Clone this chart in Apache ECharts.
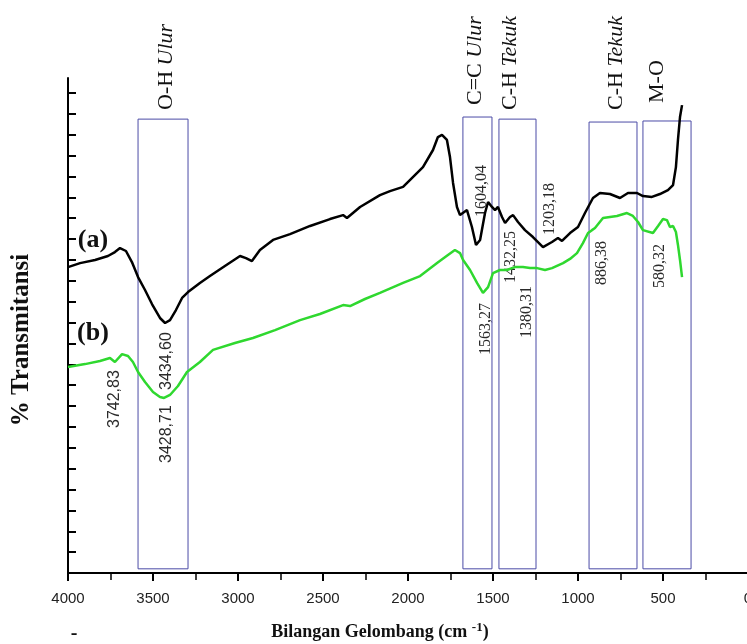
<!DOCTYPE html>
<html>
<head>
<meta charset="UTF-8">
<title>FTIR</title>
<style>
	* { margin: 0; padding: 0; }
	html, body { width: 100%; height: 100%; overflow: hidden; background: #fff; }
	#ftir { width: 747px; height: 644px; }
</style>
</head>
<body>
<div id="ftir"></div>
<script src="https://cdn.jsdelivr.net/npm/echarts@6/dist/echarts.min.js"></script>
<script>
// spektrum (a) - hitam
var waveA = [4000,3929,3841,3765,3724,3694,3659,3624,3588,3547,3506,3459,3429,3400,3365,3329,3294,3224,3165,3077,
	2988,2953,2918,2871,2794,2694,2576,2459,2382,2359,2282,2165,2106,2029,1912,1853,1824,1800,1771,1753,
	1735,1712,1694,1653,1624,1600,1576,1547,1529,1506,1488,1471,1447,1429,1400,1382,1353,1312,1265,1206,
	1153,1118,1094,1047,1000,959,912,871,812,753,706,653,618,565,518,471,441,424,412,400,388];
var transA = [14.66,14.85,15.00,15.19,15.38,15.57,15.43,14.90,14.18,13.56,12.89,12.22,11.98,12.12,12.60,13.18,13.46,13.90,14.23,14.71,
	15.19,15.09,14.95,15.48,15.96,16.24,16.63,16.96,17.15,17.01,17.54,18.11,18.30,18.50,19.45,20.27,20.89,20.99,20.75,19.93,
	18.69,17.54,17.15,17.39,16.58,15.72,15.96,17.25,17.78,17.54,17.39,17.54,17.06,16.77,17.06,17.15,16.82,16.43,16.10,15.62,
	15.86,16.05,15.91,16.29,16.58,17.25,17.97,18.21,18.16,17.97,18.21,18.21,18.06,18.02,18.16,18.35,18.59,19.45,20.75,21.85,22.42];

// spektrum (b) - hijau
var waveB = [4000,3900,3812,3753,3724,3682,3647,3618,3588,3547,3500,3459,3435,3400,3353,3300,3224,3147,3018,2912,
	2782,2635,2518,2382,2341,2253,2165,2029,1929,1829,1765,1724,1694,1676,1635,1594,1559,1529,1500,1459,
	1418,1371,1324,1282,1241,1194,1153,1088,1047,1006,971,941,918,900,853,812,771,712,677,647,
	618,559,529,500,477,459,441,424,412,400,388];
var transB = [9.87,10.01,10.16,10.30,10.11,10.49,10.40,10.11,9.63,9.15,8.67,8.43,8.39,8.53,8.96,9.63,10.11,10.69,11.02,11.26,
	11.64,12.12,12.41,12.84,12.79,13.13,13.42,13.90,14.23,14.85,15.24,15.48,15.33,15.00,14.52,13.90,13.42,13.70,14.37,14.52,
	14.52,14.66,14.66,14.61,14.61,14.52,14.61,14.85,15.05,15.33,15.81,16.29,16.43,16.53,17.01,17.06,17.11,17.25,17.11,16.82,
	16.43,16.29,16.63,16.96,16.91,16.58,16.63,16.34,15.72,15.00,14.18];

// kotak gugus fungsi (cm-1)
var bandFrom = [3588, 1677, 1465, 935, 618];
var bandTo = [3294, 1506, 1247, 653, 335];
var bandBottom = 0.2;
var bandTop = [21.75, 21.85, 21.75, 21.61, 21.66];
var bandGroup = ['O-H', 'C=C', 'C-H', 'C-H', 'M-O'];
var bandMode = ['Ulur', 'Ulur', 'Tekuk', 'Tekuk', ''];

var yTicks = [0,1,2,3,4,5,6,7,8,9,10,11,12,13,14,15,16,17,18,19,20,21,22,23];

var peakText = ['3742,83', '3434,60', '3428,71', '1604,04', '1563,27', '1432,25', '1380,31', '1203,18', '886,38', '580,32'];

// posisi teks (px): [x tengah, y bawah]
var bandLabelPos = [[166, 110], [475, 105], [510, 110], [616, 110], [657, 103]];
var peakPos = [[115, 428], [167, 390], [167, 463], [482, 217], [486, 355], [511, 283], [527, 338], [550, 235], [602, 285], [660, 288]];
var peakSerif = [false, false, false, true, true, true, true, true, true, true];

var SERIF = '"Liberation Serif", "Times New Roman", serif';
var SANS = '"Liberation Sans", Arial, sans-serif';

var chart = echarts.init(document.getElementById('ftir'));

var graphics = [];

function vText(text, x, y, style) {
	graphics.push({
		type: 'text',
		x: x,
		y: y,
		rotation: Math.PI / 2,
		style: Object.assign({
			text: text,
			align: 'left',
			verticalAlign: 'middle'
		}, style)
	});
}

bandGroup.forEach(function(g, i) {
	var txt = bandMode[i] ? '{n|' + g + ' }{i|' + bandMode[i] + '}' : '{n|' + g + '}';
	vText(txt, bandLabelPos[i][0], bandLabelPos[i][1], {
		rich: {
			n: { fontFamily: SERIF, fontSize: 22, fill: '#111' },
			i: { fontFamily: SERIF, fontSize: 22, fontStyle: 'italic', fill: '#111' }
		}
	});
});

peakText.forEach(function(t, i) {
	vText(t, peakPos[i][0], peakPos[i][1], {
		fontFamily: peakSerif[i] ? SERIF : SANS,
		fontSize: 16,
		fill: '#2a2a2a'
	});
});

// judul sumbu y
graphics.push({
	type: 'text', x: 22, y: 340, rotation: Math.PI / 2,
	style: { text: '% Transmitansi', align: 'center', verticalAlign: 'middle',
		fontFamily: SERIF, fontWeight: 'bold', fontSize: 25, fill: '#111' }
});
// judul sumbu x
graphics.push({
	type: 'text', x: 380, y: 632,
	style: { text: '{t|Bilangan Gelombang (cm }{s|-1}{t|)}', align: 'center', verticalAlign: 'middle',
		rich: {
			t: { fontFamily: SERIF, fontWeight: 'bold', fontSize: 18, fill: '#111', lineHeight: 22 },
			s: { fontFamily: SERIF, fontWeight: 'bold', fontSize: 13, fill: '#111', verticalAlign: 'top', lineHeight: 13 }
		} }
});
graphics.push({
	type: 'text', x: 74, y: 634,
	style: { text: '-', align: 'center', verticalAlign: 'middle', fontFamily: SERIF, fontWeight: 'bold', fontSize: 20, fill: '#111' }
});
// (a) dan (b)
graphics.push({
	type: 'text', x: 93, y: 240,
	style: { text: '(a)', align: 'center', verticalAlign: 'middle', fontFamily: SERIF, fontWeight: 'bold', fontSize: 26, fill: '#111' }
});
graphics.push({
	type: 'text', x: 93, y: 333,
	style: { text: '(b)', align: 'center', verticalAlign: 'middle', fontFamily: SERIF, fontWeight: 'bold', fontSize: 26, fill: '#111' }
});

function pairs(xs, ys) {
	return xs.map(function(x, i) { return [x, ys[i]]; });
}

var bandAreas = bandFrom.map(function(f, i) {
	return [{ xAxis: f, yAxis: bandBottom }, { xAxis: bandTo[i], yAxis: bandTop[i] }];
});

var option = {
	animation: false,
	backgroundColor: '#fff',
	grid: { left: 68, right: -1, top: 78, bottom: 71, outerBoundsMode: 'none', containLabel: false },
	xAxis: {
		type: 'value',
		inverse: true,
		min: 0,
		max: 4000,
		interval: 500,
		axisLine: { show: true, onZero: false, lineStyle: { color: '#000', width: 2 } },
		axisTick: { show: true, inside: false, length: 8, lineStyle: { color: '#000', width: 2 } },
		minorTick: { show: true, splitNumber: 2, length: 7, lineStyle: { color: '#000', width: 1.5 } },
		axisLabel: {
			fontFamily: SANS, fontSize: 15, color: '#222', margin: 18,
			formatter: function(v) { return String(v); }
		},
		splitLine: { show: false }
	},
	yAxis: {
		type: 'value',
		position: 'left',
		min: 0,
		max: 23.72,
		axisLine: { show: true, onZero: false, lineStyle: { color: '#000', width: 2 } },
		axisTick: { show: true, inside: true, length: 8, customValues: yTicks, lineStyle: { color: '#000', width: 2 } },
		axisLabel: { show: false },
		splitLine: { show: false }
	},
	series: [{
		name: '(a)',
		type: 'line',
		data: pairs(waveA, transA),
		showSymbol: false,
		symbol: 'none',
		lineStyle: { color: '#000', width: 2.5 },
		z: 3,
		markArea: {
			silent: true,
			itemStyle: { color: 'rgba(0,0,0,0)', borderColor: '#4b4ba6', borderWidth: 1 },
			data: bandAreas
		}
	}, {
		name: '(b)',
		type: 'line',
		data: pairs(waveB, transB),
		showSymbol: false,
		symbol: 'none',
		lineStyle: { color: '#2fd82f', width: 2.5 },
		z: 3
	}],
	graphic: graphics
};

chart.setOption(option);
</script>
</body>
</html>
